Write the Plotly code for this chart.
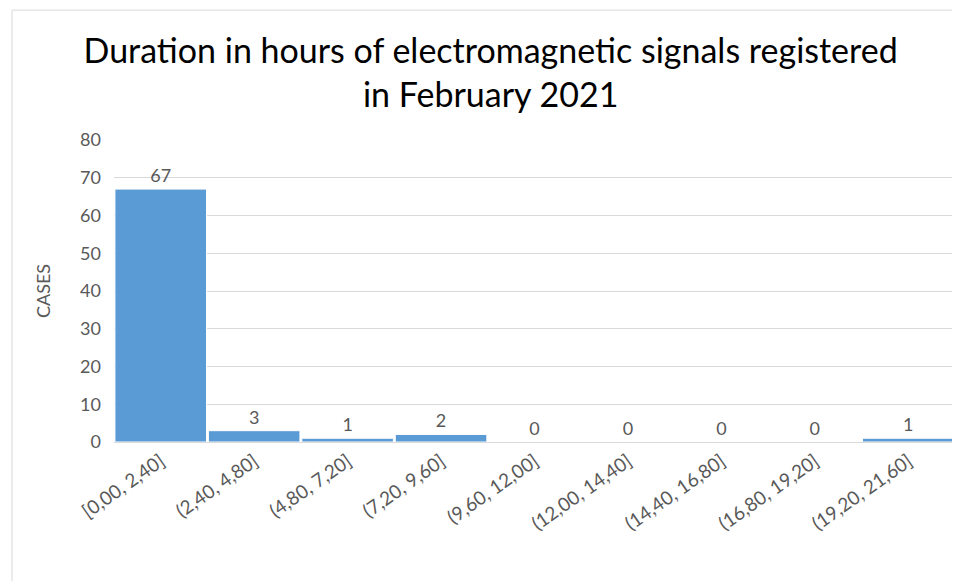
import plotly.graph_objs as go

categories = ['[0,00, 2,40]', '(2,40, 4,80]', '(4,80, 7,20]', '(7,20, 9,60]', '(9,60, 12,00]',
              '(12,00, 14,40]', '(14,40, 16,80]', '(16,80, 19,20]', '(19,20, 21,60]']
cases = [67, 3, 1, 2, 0, 0, 0, 0, 1]

grey = '#595959'
font_name = 'Lato'

bars = go.Bar(
    x=categories,
    y=cases,
    marker=dict(color='#5B9BD5', line=dict(color='white', width=1)),
    text=[str(v) for v in cases],
    textposition='outside',
    textfont=dict(family=font_name, size=18, color=grey),
    cliponaxis=False,
)

# page body has an 8px margin, so the figure is a bit smaller than the window
layout = go.Layout(
    width=952,
    height=573,
    paper_bgcolor='white',
    plot_bgcolor='white',
    margin=dict(l=106, r=5, t=132, b=139),
    title=dict(
        text='Duration in hours of electromagnetic signals registered<br>in February 2021',
        x=0.507,
        xanchor='center',
        y=0.904,
        yanchor='middle',
        font=dict(family=font_name, size=34, color='black'),
    ),
    bargap=0.02,
    showlegend=False,
    xaxis=dict(
        tickangle=-35,
        tickfont=dict(family=font_name, size=19, color=grey),
        showgrid=False,
        showline=True,
        linecolor='#d9d9d9',
        ticks='',
    ),
    yaxis=dict(
        range=[0, 80],
        dtick=10,
        tickfont=dict(family=font_name, size=18, color=grey),
        gridcolor='#d9d9d9',
        zeroline=False,
        ticklabelstandoff=12,
        title=dict(text='CASES', font=dict(family=font_name, size=18, color=grey), standoff=24),
        ticks='',
    ),
    shapes=[
        dict(type='rect', xref='paper', yref='paper', x0=-0.1213, y0=-0.5, x1=1.1, y1=1.43,
             line=dict(color='#d9d9d9', width=1)),
    ],
)

fig = go.Figure(data=[bars], layout=layout)
fig.write_html("out.html")
